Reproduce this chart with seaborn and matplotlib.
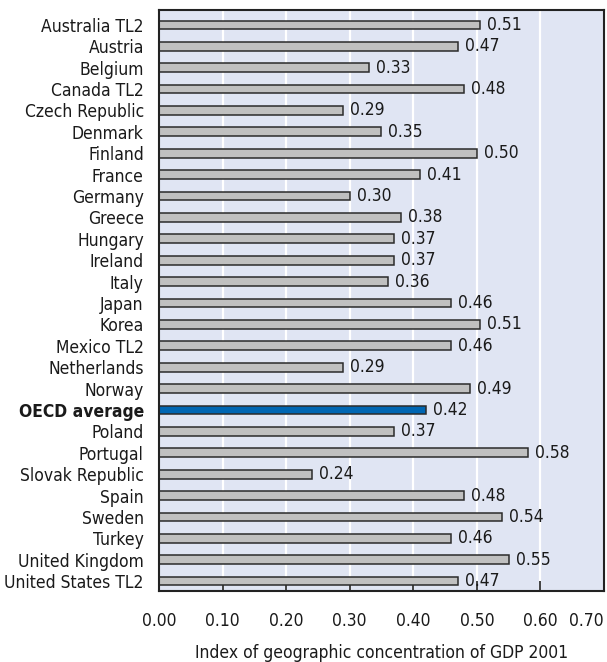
import matplotlib
matplotlib.use("Agg")
import matplotlib.pyplot as plt
import seaborn as sns
import pandas as pd

# data
countries = [
    "Australia TL2", "Austria", "Belgium", "Canada TL2", "Czech Republic",
    "Denmark", "Finland", "France", "Germany", "Greece", "Hungary", "Ireland",
    "Italy", "Japan", "Korea", "Mexico TL2", "Netherlands", "Norway",
    "OECD average", "Poland", "Portugal", "Slovak Republic", "Spain",
    "Sweden", "Turkey", "United Kingdom", "United States TL2",
]
values = [
    0.505, 0.47, 0.33, 0.48, 0.29,
    0.35, 0.50, 0.41, 0.30, 0.38, 0.37, 0.37,
    0.36, 0.46, 0.505, 0.46, 0.29, 0.49,
    0.42, 0.37, 0.58, 0.24, 0.48,
    0.54, 0.46, 0.55, 0.47,
]
labels = [
    "0.51", "0.47", "0.33", "0.48", "0.29",
    "0.35", "0.50", "0.41", "0.30", "0.38", "0.37", "0.37",
    "0.36", "0.46", "0.51", "0.46", "0.29", "0.49",
    "0.42", "0.37", "0.58", "0.24", "0.48",
    "0.54", "0.46", "0.55", "0.47",
]
x_ticks = [0.0, 0.1, 0.2, 0.3, 0.4, 0.5, 0.6, 0.7]
highlight = "OECD average"

df = pd.DataFrame({"country": countries, "value": values})
df["group"] = ["avg" if c == highlight else "country" for c in countries]

sns.set_style("white")
plt.rcParams["font.family"] = ["DejaVu Sans"]
plt.rcParams["font.stretch"] = "condensed"
FS = 12.5

fig = plt.figure(figsize=(6.07, 6.62), dpi=100)
ax = fig.add_axes([0.262, 0.107, 0.733, 0.878])
ax.set_facecolor("#e0e5f3")

for x in x_ticks[1:-1]:
    ax.axvline(x, color="white", lw=1.6, zorder=0)

sns.barplot(data=df, x="value", y="country", hue="group",
            palette={"country": "#c0c0c0", "avg": "#0066b3"}, saturation=1,
            width=0.41, edgecolor="#2b2b2b", linewidth=1.1,
            dodge=False, legend=False, ax=ax, zorder=2)

for cont in ax.containers:
    idx = [int(round(p.get_y() + p.get_height() / 2)) for p in cont]
    ax.bar_label(cont, labels=[labels[i] for i in idx], padding=5, fontsize=FS,
                 color="#1a1a1a")

ax.set_xlim(0, 0.70)
ax.set_ylim(len(countries) - 0.53, -0.70)
ax.set_xticks(x_ticks)
ax.set_xticklabels([f"{t:.2f}" for t in x_ticks], fontsize=FS, color="#1a1a1a")
ax.get_xticklabels()[-1].set_horizontalalignment("right")
ax.tick_params(axis="x", direction="in", length=7, width=1.2, color="#222222",
               pad=15, bottom=True)
ax.tick_params(axis="y", length=0, pad=11, labelsize=FS, labelcolor="#1a1a1a")
for lab in ax.get_yticklabels():
    if lab.get_text() == highlight:
        lab.set_fontweight("bold")

ax.set_xlabel("Index of geographic concentration of GDP 2001", fontsize=FS,
              labelpad=10, color="#1a1a1a")
ax.set_ylabel("")

for s in ax.spines.values():
    s.set_visible(True)
    s.set_color("#222222")
    s.set_linewidth(1.5)

fig.savefig("out.png", dpi=100)
